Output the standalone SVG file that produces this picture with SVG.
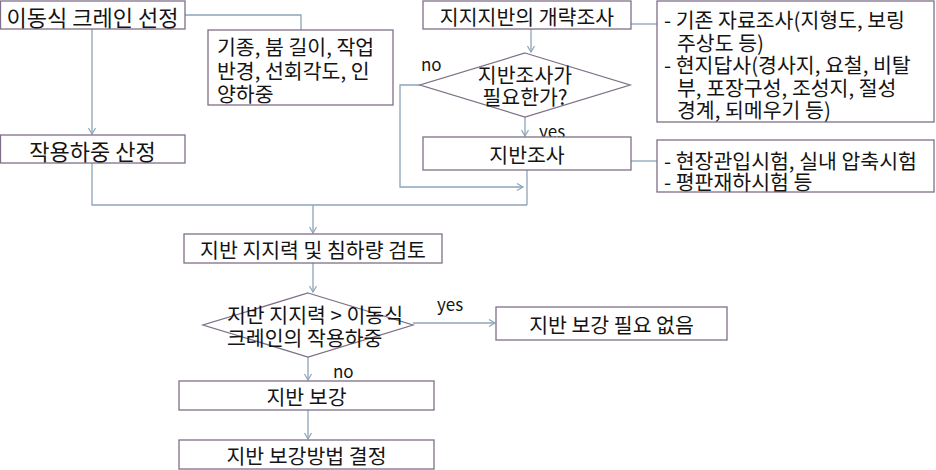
<svg xmlns="http://www.w3.org/2000/svg" width="936" height="470" viewBox="0 0 936 470">
<style>
  .box{fill:#fff;stroke:#7f6f88;stroke-width:1.3}
  .ln{fill:none;stroke:#8da4ba;stroke-width:1.3}
  text{font-family:"Noto Sans CJK KR","Malgun Gothic",sans-serif;fill:#141414;dominant-baseline:central}
  .t{font-size:20.5px}
  .tb{font-size:22px}
  .c{text-anchor:middle}
  .lbl{font-size:17px}
</style>
<defs>
  <marker id="ah" markerUnits="userSpaceOnUse" markerWidth="10" markerHeight="10" refX="7" refY="4" orient="auto">
    <path d="M1,0.5 L7,4 L1,7.5" fill="none" stroke="#8da4ba" stroke-width="1.2"/>
  </marker>
</defs>
<rect width="936" height="470" fill="#fff"/>
<g id="connectors">
  <path class="ln" d="M185,15 H301 V30"/>
  <path class="ln" d="M92,29 V134" marker-end="url(#ah)"/>
  <path class="ln" d="M92,163 V205 H527"/>
  <path class="ln" d="M313,205 V233" marker-end="url(#ah)"/>
  <path class="ln" d="M531,29 V52" marker-end="url(#ah)"/>
  <path class="ln" d="M631,24 H657"/>
  <path class="ln" d="M525,117 V136" marker-end="url(#ah)"/>
  <path class="ln" d="M631,161 H657"/>
  <path class="ln" d="M527,170 V205"/>
  <path class="ln" d="M420,85 H400 V187 H523" marker-end="url(#ah)"/>
  <path class="ln" d="M313,263 V292" marker-end="url(#ah)"/>
  <path class="ln" d="M413,323 H495" marker-end="url(#ah)"/>
  <path class="ln" d="M308,357 V380" marker-end="url(#ah)"/>
  <path class="ln" d="M308,410 V439" marker-end="url(#ah)"/>
  <text class="lbl" x="421" y="63">no</text>
  <text class="lbl" x="539" y="130">yes</text>
  <text class="lbl" x="437" y="303">yes</text>
  <text class="lbl" x="333" y="370">no</text>
</g>
<g id="n1">
  <rect class="box" x="0.5" y="1" width="184.5" height="28"/>
  <text class="tb c" x="92.5" y="15.5">이동식 크레인 선정</text>
</g>
<g id="n1note">
  <rect class="box" x="208" y="30" width="185" height="75"/>
  <text class="t" x="217" y="46">기종, 붐 길이, 작업</text>
  <text class="t" x="217" y="70">반경, 선회각도, 인</text>
  <text class="t" x="217" y="93">양하중</text>
</g>
<g id="n2">
  <rect class="box" x="0.5" y="135" width="184.5" height="28"/>
  <text class="tb c" x="92.5" y="150">작용하중 산정</text>
</g>
<g id="n3">
  <rect class="box" x="423" y="1" width="208" height="28"/>
  <text class="t c" x="527" y="15.5">지지지반의 개략조사</text>
</g>
<g id="n3note">
  <rect class="box" x="657" y="1" width="277" height="121"/>
  <text class="t" x="664" y="19">- 기존 자료조사(지형도, 보링</text>
  <text class="t" x="677" y="41.5">주상도 등)</text>
  <text class="t" x="664" y="64">- 현지답사(경사지, 요철, 비탈</text>
  <text class="t" x="677" y="86.5">부, 포장구성, 조성지, 절성</text>
  <text class="t" x="677" y="108.5">경계, 되메우기 등)</text>
</g>
<g id="d1">
  <polygon class="box" points="525,53 630,85 525,117 420,85"/>
  <text class="t c" x="525" y="74">지반조사가</text>
  <text class="t c" x="525" y="96">필요한가?</text>
</g>
<g id="n4">
  <rect class="box" x="423" y="137" width="208" height="33"/>
  <text class="t c" x="527" y="153.5">지반조사</text>
</g>
<g id="n4note">
  <rect class="box" x="657" y="140" width="277" height="52"/>
  <text class="t" x="664" y="159.5">- 현장관입시험, 실내 압축시험</text>
  <text class="t" x="664" y="180.5">- 평판재하시험 등</text>
</g>
<g id="n5">
  <rect class="box" x="184" y="234" width="258" height="29"/>
  <text class="t c" x="313" y="248.5">지반 지지력 및 침하량 검토</text>
</g>
<g id="d2">
  <polygon class="box" points="308,293 413,325 308,357 203,325"/>
  <text class="t" x="227" y="313.5">지반 지지력 &gt; 이동식</text>
  <text class="t" x="227" y="337">크레인의 작용하중</text>
</g>
<g id="n6">
  <rect class="box" x="496" y="307" width="231" height="33"/>
  <text class="t c" x="611.5" y="323.5">지반 보강 필요 없음</text>
</g>
<g id="n7">
  <rect class="box" x="179" y="381" width="255" height="29"/>
  <text class="t c" x="306.5" y="395.5">지반 보강</text>
</g>
<g id="n8">
  <rect class="box" x="179" y="440" width="255" height="29"/>
  <text class="t c" x="306.5" y="454.5">지반 보강방법 결정</text>
</g>
</svg>
